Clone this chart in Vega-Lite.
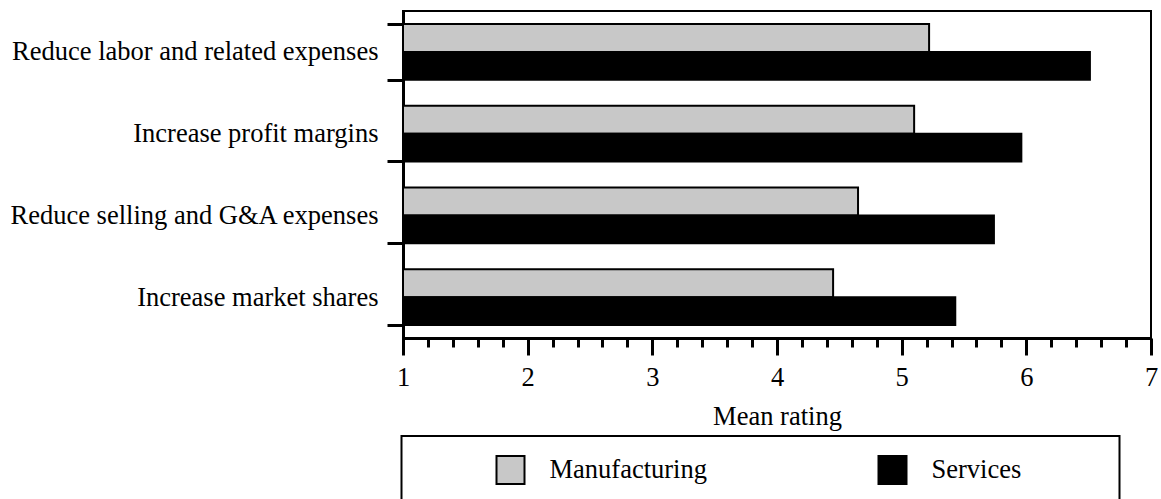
{
  "$schema": "https://vega.github.io/schema/vega-lite/v6.json",
  "width": 748,
  "height": 327,
  "autosize": {"type": "none"},
  "padding": {"left": 403, "top": 11, "right": 10, "bottom": 161},
  "background": "white",
  "data": {
    "values": [
      {"strategy": "Reduce labor and related expenses", "sector": "Manufacturing", "rating": 5.22},
      {"strategy": "Reduce labor and related expenses", "sector": "Services", "rating": 6.51},
      {"strategy": "Increase profit margins", "sector": "Manufacturing", "rating": 5.10},
      {"strategy": "Increase profit margins", "sector": "Services", "rating": 5.96},
      {"strategy": "Reduce selling and G&A expenses", "sector": "Manufacturing", "rating": 4.65},
      {"strategy": "Reduce selling and G&A expenses", "sector": "Services", "rating": 5.74},
      {"strategy": "Increase market shares", "sector": "Manufacturing", "rating": 4.45},
      {"strategy": "Increase market shares", "sector": "Services", "rating": 5.43}
    ]
  },
  "mark": {"type": "bar", "stroke": "black", "strokeWidth": 2},
  "encoding": {
    "y": {
      "field": "strategy",
      "type": "nominal",
      "sort": null,
      "scale": {"paddingInner": 0.32, "paddingOuter": 0.16},
      "axis": {
        "title": null,
        "domainColor": "black",
        "domainWidth": 3,
        "tickColor": "black",
        "tickWidth": 3,
        "tickSize": 16,
        "tickBand": "extent",
        "labelFont": "Liberation Serif",
        "labelFontSize": 26.5,
        "labelColor": "black",
        "labelPadding": 9,
        "labelLimit": 1000
      }
    },
    "yOffset": {"field": "sector", "type": "nominal", "sort": ["Manufacturing", "Services"], "scale": {"paddingInner": 0}},
    "x": {
      "field": "rating",
      "type": "quantitative",
      "scale": {"domain": [1, 7], "nice": false, "zero": false},
      "axis": {
        "title": "Mean rating",
        "titleFont": "Liberation Serif",
        "titleFontSize": 26.5,
        "titleFontWeight": "normal",
        "titleColor": "black",
        "titlePadding": 13,
        "values": [1, 1.2, 1.4, 1.6, 1.8, 2, 2.2, 2.4, 2.6, 2.8, 3, 3.2, 3.4, 3.6, 3.8, 4, 4.2, 4.4, 4.6, 4.8, 5, 5.2, 5.4, 5.6, 5.8, 6, 6.2, 6.4, 6.6, 6.8, 7],
        "labelExpr": "abs(datum.value - round(datum.value)) < 0.01 ? format(datum.value, 'd') : ''",
        "labelOverlap": false,
        "labelFlush": false,
        "labelFont": "Liberation Serif",
        "labelFontSize": 26.5,
        "labelColor": "black",
        "labelPadding": 9,
        "domainColor": "black",
        "domainWidth": 3,
        "tickColor": "black",
        "tickWidth": 3,
        "tickSize": {"condition": {"test": "abs(datum.value - round(datum.value)) < 0.01", "value": 17}, "value": 9},
        "grid": false
      }
    },
    "x2": {"datum": 1},
    "fill": {
      "field": "sector",
      "type": "nominal",
      "scale": {"domain": ["Manufacturing", "Services"], "range": ["#c8c8c8", "#000000"]},
      "legend": {
        "orient": "none",
        "legendX": -1.5,
        "legendY": 425,
        "direction": "horizontal",
        "columns": 2,
        "columnPadding": 95,
        "symbolType": "square",
        "symbolSize": 784,
        "symbolStrokeColor": "black",
        "symbolStrokeWidth": 2,
        "symbolOffset": 75,
        "labelOffset": 24,
        "labelFont": "Liberation Serif",
        "labelFontSize": 26.5,
        "labelColor": "black",
        "labelLimit": 500,
        "padding": 19,
        "strokeColor": "black",
        "title": "\u00a0",
        "titleOrient": "right",
        "titlePadding": 79,
        "titleFontSize": 26,
        "encode": {"legend": {"update": {"strokeWidth": {"value": 2}}}}
      }
    }
  },
  "config": {
    "font": "Liberation Serif",
    "view": {"stroke": "black", "strokeWidth": 2}
  }
}
